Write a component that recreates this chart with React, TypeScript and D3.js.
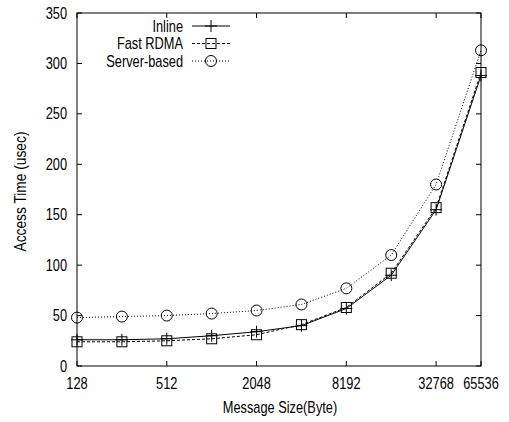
import * as d3 from "d3";

const sizes = [128, 256, 512, 1024, 2048, 4096, 8192, 16384, 32768, 65536];
const inline = [26, 26, 27, 30, 34, 40, 57, 90, 155, 288];
const fastRdma = [24, 24, 25, 27, 31, 41, 58, 92, 157, 291];
const serverBased = [48, 49, 50, 52, 55, 61, 77, 110, 180, 313];
const xTicks = [128, 512, 2048, 8192, 32768, 65536];
const yTicks = [0, 50, 100, 150, 200, 250, 300, 350];

const series = [
  { name: "Inline", values: inline, dash: null, marker: "plus" },
  { name: "Fast RDMA", values: fastRdma, dash: "3,2", marker: "square" },
  { name: "Server-based", values: serverBased, dash: "1,2", marker: "circle" },
];

const left = 77;
const right = 481;
const top = 13;
const bottom = 366;
const font = "'Liberation Sans', Arial, Helvetica, sans-serif";

// gnuplot-ish narrow text: tall glyphs, squeezed horizontally
function Label({
  x,
  y,
  anchor,
  children,
}: {
  x: number;
  y: number;
  anchor: string;
  children: any;
}) {
  return (
    <text
      transform={`translate(${x},${y}) scale(0.8,1)`}
      dy="0.35em"
      textAnchor={anchor}
      fontFamily={font}
      fontSize={16}
    >
      {children}
    </text>
  );
}

function Marker({ type, x, y }: { type: string; x: number; y: number }) {
  if (type === "plus") {
    return (
      <path
        d={`M${x - 6},${y}H${x + 6}M${x},${y - 6}V${y + 6}`}
        stroke="#000"
        strokeWidth={1}
      />
    );
  }
  if (type === "square") {
    return <rect x={x - 5} y={y - 5} width={10} height={10} fill="none" stroke="#000" />;
  }
  return <circle cx={x} cy={y} r={5.5} fill="none" stroke="#000" />;
}

export default function App() {
  const x = d3.scaleLog().base(2).domain([128, 65536]).range([left, right]);
  const y = d3.scaleLinear().domain([0, 350]).range([bottom, top]);
  const line = d3
    .line<number>()
    .x((_, i) => x(sizes[i]))
    .y((d) => y(d));

  return (
    <svg width={509} height={422} style={{ position: "absolute", left: 0, top: 0 }}>
      <rect width={509} height={422} fill="#fff" />
      <rect
        x={left}
        y={top}
        width={right - left}
        height={bottom - top}
        fill="none"
        stroke="#000"
        strokeWidth={1}
      />
      {yTicks.map((t) => (
        <g key={"y" + t}>
          <path d={`M${left},${y(t)}h5M${right},${y(t)}h-5`} stroke="#000" />
          <Label x={left - 10} y={y(t)} anchor="end">
            {t}
          </Label>
        </g>
      ))}
      {xTicks.map((t) => (
        <g key={"x" + t}>
          <path d={`M${x(t)},${bottom}v-5M${x(t)},${top}v5`} stroke="#000" />
          <Label x={x(t)} y={bottom + 17} anchor="middle">
            {t}
          </Label>
        </g>
      ))}
      {series.map((s) => (
        <g key={s.name}>
          <path
            d={line(s.values) || ""}
            fill="none"
            stroke="#000"
            strokeWidth={1}
            strokeDasharray={s.dash || undefined}
          />
          {s.values.map((v, i) => (
            <Marker key={i} type={s.marker} x={x(sizes[i])} y={y(v)} />
          ))}
        </g>
      ))}
      {series.map((s, i) => {
        const ly = 26 + i * 17.5;
        return (
          <g key={"leg" + s.name}>
            <Label x={183} y={ly} anchor="end">
              {s.name}
            </Label>
            <path
              d={`M192,${ly}H230`}
              stroke="#000"
              strokeDasharray={s.dash || undefined}
            />
            <Marker type={s.marker} x={211} y={ly} />
          </g>
        );
      })}
      <Label x={(left + right) / 2 + 1} y={407} anchor="middle">
        Message Size(Byte)
      </Label>
      <text
        transform={`translate(26,${(top + bottom) / 2 + 2}) rotate(-90) scale(0.86,1)`}
        textAnchor="middle"
        fontFamily={font}
        fontSize={16}
      >
        Access Time (usec)
      </text>
    </svg>
  );
}
